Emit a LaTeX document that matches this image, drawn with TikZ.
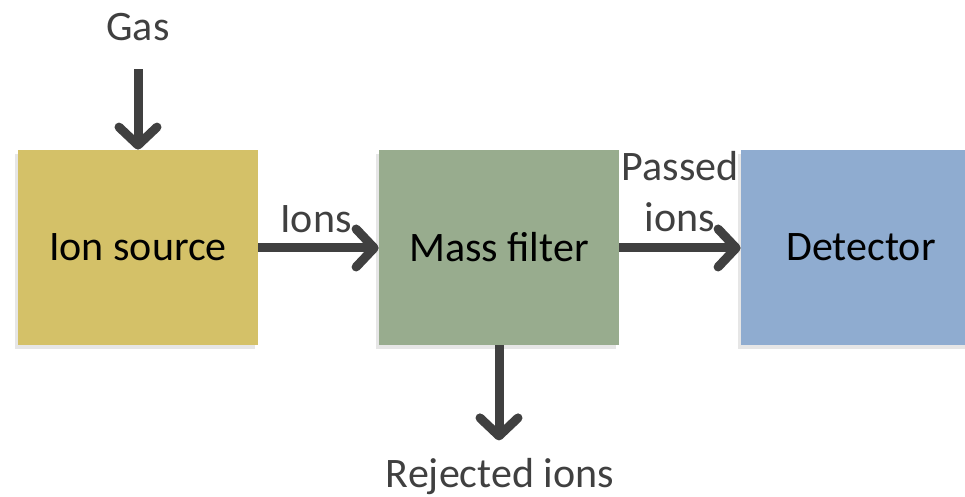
\documentclass[tikz,border=0pt]{standalone}
\usepackage{fontspec}
\setmainfont{Carlito}
\usetikzlibrary{arrows.meta,shadows}

\definecolor{srcyellow}{HTML}{D4C168}
\definecolor{filtgreen}{HTML}{98AC8E}
\definecolor{detblue}{HTML}{8FACD0}
\definecolor{arrowgray}{HTML}{404040}

\begin{document}
\begin{tikzpicture}[x=0.5pt,y=-0.5pt,
  block/.style={minimum width=120pt, minimum height=97.5pt, inner sep=0pt,
    font=\fontsize{21}{25.5}\selectfont,
    drop shadow={shadow xshift=-1.5pt, shadow yshift=-2pt, opacity=0.2, fill=black!50}},
  lbl/.style={text=arrowgray, align=center, inner sep=1pt,
    font=\fontsize{21}{25.5}\selectfont},
  flow/.style={draw=arrowgray, line width=4.5pt,
    -{Straight Barb[round, length=9pt, width=19pt]}}]
\useasboundingbox (0,0) rectangle (965,497);

% blocks
\node[block, fill=srcyellow] (src) at (138,247.5) {Ion source};
\node[block, fill=filtgreen] (filt) at (499,247.5) {Mass filter};
\node[block, fill=detblue] (det) at (861,247.5) {Detector};

% labels
\node[lbl] (gas) at (138,27) {Gas};
\node[lbl] (ions) at (316,219) {Ions};
\node[lbl] (passed) at (680,192) {Passed\\ions};
\node[lbl] (rej) at (500,477) {Rejected ions};

% flows
\draw[flow] (gas.south) ++(0,26) -- (src.north);
\draw[flow] (src.east |- 0,248) -- (filt.west |- 0,248);
\draw[flow] (filt.east |- 0,248) -- (det.west |- 0,248);
\draw[flow] (filt.south) -- ++(0,95);
\end{tikzpicture}
\end{document}
